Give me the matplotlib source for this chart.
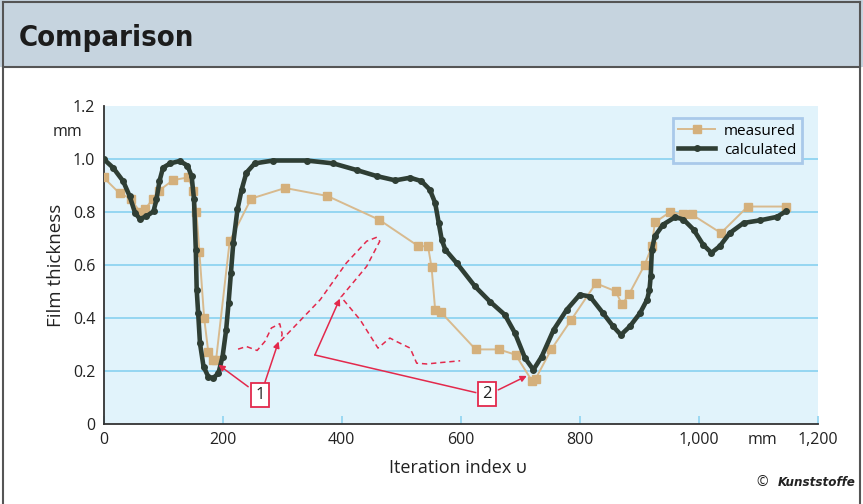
import matplotlib.pyplot as plt
from matplotlib.patches import Rectangle
from matplotlib.lines import Line2D

# measured film thickness (squares)
meas_x = [0, 27, 46, 61, 70, 83, 93, 117, 142, 151, 156, 161, 169, 176, 184, 189,
          212, 248, 305, 376, 463, 529, 545, 551, 557, 567, 625, 664, 692, 720, 726,
          752, 785, 827, 860, 871, 883, 909, 921, 926, 952, 973, 988, 1037, 1082, 1146]
meas_y = [0.93, 0.87, 0.85, 0.80, 0.81, 0.85, 0.88, 0.92, 0.93, 0.88, 0.80, 0.65, 0.40, 0.27, 0.24, 0.24,
          0.69, 0.85, 0.89, 0.86, 0.77, 0.67, 0.67, 0.59, 0.43, 0.42, 0.28, 0.28, 0.26, 0.16, 0.17,
          0.28, 0.39, 0.53, 0.50, 0.45, 0.49, 0.60, 0.67, 0.76, 0.80, 0.79, 0.79, 0.72, 0.82, 0.82]

# calculated film thickness (line)
calc_x = [0, 16, 33, 44, 53, 61, 72, 84, 89, 94, 100, 112, 128, 141, 148, 152, 155, 156.5,
          159, 162, 168, 176, 184, 193, 200, 206, 210, 214, 218, 225, 232, 240, 254, 285,
          341, 386, 425, 459, 490, 515, 534, 548, 557, 563, 568, 574, 593, 624, 649, 674,
          691, 708, 722, 736, 756, 778, 800, 817, 839, 856, 869, 884, 901, 913, 917, 919,
          921, 926, 940, 960, 974, 991, 1007, 1021, 1035, 1052, 1075, 1103, 1131, 1146]
calc_y = [1.00, 0.967, 0.916, 0.859, 0.796, 0.773, 0.783, 0.802, 0.847, 0.916, 0.967, 0.983, 0.992,
          0.975, 0.935, 0.847, 0.657, 0.506, 0.417, 0.304, 0.215, 0.177, 0.171, 0.190, 0.253,
          0.354, 0.455, 0.569, 0.683, 0.809, 0.884, 0.948, 0.983, 0.994, 0.994, 0.983, 0.958,
          0.935, 0.919, 0.929, 0.916, 0.884, 0.834, 0.758, 0.695, 0.657, 0.607, 0.518, 0.461,
          0.411, 0.342, 0.247, 0.203, 0.253, 0.354, 0.430, 0.487, 0.480, 0.417, 0.367, 0.335,
          0.367, 0.417, 0.468, 0.506, 0.556, 0.657, 0.708, 0.752, 0.780, 0.771, 0.733, 0.676,
          0.645, 0.670, 0.720, 0.758, 0.768, 0.781, 0.802]

# dashed red sketch line
sketch_x = [226, 240, 258, 271, 282, 296, 300, 298, 364, 408, 442, 459, 464, 442, 399,
            431, 461, 481, 492, 515, 526, 543, 565, 599]
sketch_y = [0.281, 0.291, 0.276, 0.310, 0.361, 0.377, 0.339, 0.313, 0.468, 0.607, 0.689,
            0.704, 0.689, 0.594, 0.478, 0.392, 0.285, 0.323, 0.310, 0.285, 0.228, 0.225,
            0.230, 0.237]

xticks = [0, 200, 400, 600, 800, 1000, 1200]
xtick_labels = ['0', '200', '400', '600', '800', '1,000', '1,200']
yticks = [0, 0.2, 0.4, 0.6, 0.8, 1.0, 1.2]
ytick_labels = ['0', '0.2', '0.4', '0.6', '0.8', '1.0', '1.2']

plt.rcParams['font.family'] = ['Open Sans', 'DejaVu Sans']

W, H = 863, 504
fig = plt.figure(figsize=(W / 100, H / 100), dpi=100)

def fx(px):
    return px / W

def fy(py):
    return 1 - py / H

# header band and frame
fig.patches.append(Rectangle((0, fy(67)), 1, 1 - fy(67), transform=fig.transFigure,
                             facecolor='#c6d4df', edgecolor='none', zorder=0))
frame = '#555555'
fig.lines.append(Line2D([fx(3), fx(3)], [0, fy(2)], transform=fig.transFigure, color=frame, lw=1.5))
fig.lines.append(Line2D([fx(860), fx(860)], [0, fy(2)], transform=fig.transFigure, color=frame, lw=1.5))
fig.lines.append(Line2D([fx(3), fx(860)], [fy(2), fy(2)], transform=fig.transFigure, color=frame, lw=1.5))
fig.lines.append(Line2D([fx(3), fx(860)], [fy(67), fy(67)], transform=fig.transFigure, color=frame, lw=1.5))

fig.text(fx(19), fy(38), 'Comparison', ha='left', va='center', fontsize=21, weight='bold',
         family='DejaVu Sans', stretch='condensed', color='#1c1c1c')

ax = fig.add_axes([fx(103.5), fy(423.5), fx(818) - fx(103.5), fy(106) - fy(423.5)])
ax.set_facecolor('#e1f3fb')
ax.set_xlim(0, 1200)
ax.set_ylim(0, 1.2)

grid_c = '#8fd3f1'
for yv in yticks[1:-1]:
    ax.axhline(yv, color=grid_c, lw=1.3, zorder=1)

ax.plot(meas_x, meas_y, color='#d8ba8e', lw=1.4, marker='s', ms=6.2,
        mfc='#d4b07c', mec='#d4b07c', zorder=3, label='measured')
ax.plot(calc_x, calc_y, color='#2f3e34', lw=3.3, marker='o', ms=4.0,
        zorder=4, label='calculated')

red = '#e3294c'
ax.plot(sketch_x, sketch_y, color=red, lw=1.1, ls=(0, (3.5, 2.5)), zorder=5)

arrow = dict(arrowstyle='-|>', color=red, lw=1.1, mutation_scale=9, shrinkA=0, shrinkB=0)
ax.annotate('', xy=(193, 0.222), xytext=(243, 0.139), arrowprops=arrow, zorder=6)
ax.annotate('', xy=(294, 0.310), xytext=(271, 0.155), arrowprops=arrow, zorder=6)
ax.annotate('', xy=(711, 0.180), xytext=(663, 0.127), arrowprops=arrow, zorder=6)
ax.plot([625, 355], [0.117, 0.259], color=red, lw=1.1, zorder=6)
ax.annotate('', xy=(397, 0.472), xytext=(355, 0.259), arrowprops=arrow, zorder=6)

box = dict(boxstyle='square,pad=0.25', fc='white', ec=red, lw=1.3)
ax.text(263, 0.107, '1', ha='center', va='center', fontsize=12, color='#222222', bbox=box, zorder=7)
ax.text(644, 0.111, '2', ha='center', va='center', fontsize=12, color='#222222', bbox=box, zorder=7)

ax.set_xticks(xticks)
ax.set_xticklabels(xtick_labels)
ax.set_yticks(yticks)
ax.set_yticklabels(ytick_labels)
ax.tick_params(axis='x', direction='in', length=6, width=1.2, color=grid_c,
               labelsize=11.5, labelcolor='#222222', pad=6)
ax.tick_params(axis='y', length=0, labelsize=11.5, labelcolor='#222222', pad=6)
for s in ['top', 'right']:
    ax.spines[s].set_visible(False)
for s in ['left', 'bottom']:
    ax.spines[s].set_color('#333333')
    ax.spines[s].set_linewidth(1.3)

ax.text(-0.03, 1.1, 'mm', transform=ax.get_yaxis_transform(), ha='right', va='center',
        fontsize=11.5, color='#222222')
fig.text(fx(762), fy(440), 'mm', ha='center', va='center', fontsize=11.5, color='#222222')

fig.text(fx(56), fy(265), 'Film thickness', rotation=90, ha='center', va='center',
         fontsize=13.5, color='#222222')
fig.text(fx(458), fy(468), 'Iteration index υ', ha='center', va='center',
         fontsize=13, color='#222222')

fig.text(fx(768), fy(483), '©', ha='right', va='center', fontsize=10, color='#222222')
fig.text(fx(778), fy(483), 'Kunststoffe', ha='left', va='center', fontsize=9.5,
         weight='bold', style='italic', color='#222222',
         family='DejaVu Sans', stretch='condensed')

leg = ax.legend(loc='upper right', bbox_to_anchor=(0.988, 0.985), fontsize=11,
                frameon=True, fancybox=False, handlelength=2.4, borderpad=0.35,
                labelspacing=0.25, handletextpad=0.6)
leg.get_frame().set_facecolor('#e1f3fb')
leg.get_frame().set_edgecolor('#a9c9ea')
leg.get_frame().set_linewidth(2)
leg.get_frame().set_alpha(1)

fig.savefig('out.png', dpi=100)
